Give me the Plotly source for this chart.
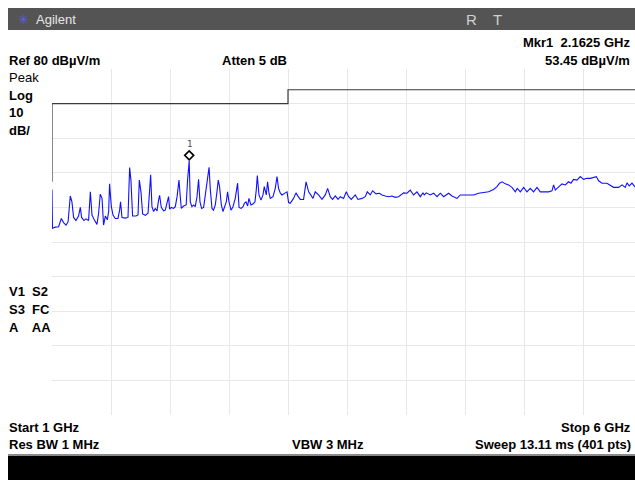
import plotly.graph_objects as go

# ---------------- data ----------------
freq_ghz = [
    1.000, 1.004, 1.028, 1.056, 1.079, 1.098, 1.119, 1.136, 1.155, 1.169,
    1.183, 1.203, 1.225, 1.240, 1.251, 1.271, 1.288, 1.310, 1.325, 1.339,
    1.358, 1.381, 1.395, 1.409, 1.424, 1.437, 1.452, 1.469, 1.480, 1.488,
    1.503, 1.517, 1.536, 1.559, 1.573, 1.581, 1.593, 1.621, 1.644, 1.658,
    1.669, 1.683, 1.712, 1.729, 1.740, 1.754, 1.768, 1.791, 1.814, 1.827,
    1.836, 1.847, 1.861, 1.875, 1.890, 1.903, 1.912, 1.926, 1.946, 1.960,
    1.975, 1.988, 1.997, 2.011, 2.031, 2.045, 2.060, 2.076, 2.087, 2.096,
    2.115, 2.137, 2.149, 2.1625, 2.172, 2.186, 2.200, 2.214, 2.229, 2.242,
    2.254, 2.268, 2.285, 2.299, 2.314, 2.331, 2.342, 2.356, 2.369, 2.384,
    2.398, 2.409, 2.420, 2.435, 2.449, 2.463, 2.477, 2.488, 2.500, 2.517,
    2.534, 2.553, 2.573, 2.585, 2.602, 2.619, 2.630, 2.644, 2.658, 2.669,
    2.686, 2.703, 2.720, 2.731, 2.740, 2.754, 2.771, 2.788, 2.799, 2.816,
    2.827, 2.839, 2.850, 2.873, 2.892, 2.907, 2.920, 2.935, 2.949, 2.977,
    2.992, 3.005, 3.019, 3.047, 3.068, 3.087, 3.104, 3.132, 3.153, 3.175,
    3.195, 3.212, 3.231, 3.259, 3.288, 3.316, 3.336, 3.358, 3.378, 3.401,
    3.424, 3.443, 3.471, 3.494, 3.514, 3.536, 3.570, 3.593, 3.627, 3.655,
    3.672, 3.697, 3.717, 3.746, 3.774, 3.797, 3.825, 3.853, 3.881, 3.909,
    3.937, 3.960, 3.980, 4.008, 4.036, 4.064, 4.093, 4.121, 4.144, 4.155,
    4.172, 4.206, 4.234, 4.263, 4.291, 4.319, 4.361, 4.390, 4.432, 4.460,
    4.517, 4.573, 4.615, 4.658, 4.700, 4.742, 4.771, 4.793, 4.814, 4.842,
    4.869, 4.898, 4.926, 4.943, 4.969, 4.997, 5.025, 5.053, 5.081, 5.110,
    5.138, 5.166, 5.208, 5.237, 5.251, 5.265, 5.293, 5.322, 5.350, 5.378,
    5.398, 5.420, 5.449, 5.477, 5.505, 5.534, 5.562, 5.590, 5.613, 5.632,
    5.661, 5.703, 5.731, 5.759, 5.802, 5.831, 5.858, 5.873, 5.892, 5.915,
    5.943, 5.970, 6.000,
]
level_dbuv = [
    45.2, 34.0, 34.3, 34.4, 36.8, 35.6, 34.9, 35.8, 43.3, 41.6,
    37.1, 36.2, 37.5, 40.0, 37.1, 36.2, 36.7, 36.2, 44.5, 37.8,
    36.4, 35.1, 38.3, 43.8, 42.6, 34.9, 37.5, 36.4, 38.8, 46.8,
    40.2, 37.8, 36.8, 36.8, 39.2, 41.6, 37.1, 36.9, 37.1, 51.5,
    47.9, 37.5, 37.5, 37.8, 47.9, 44.5, 38.1, 37.7, 38.3, 46.5,
    49.4, 40.2, 38.8, 39.7, 39.0, 42.1, 43.5, 40.0, 39.0, 39.2,
    41.6, 43.1, 39.5, 40.0, 39.7, 40.2, 43.1, 47.9, 43.1, 39.7,
    40.4, 40.7, 47.9, 53.45, 41.6, 40.2, 40.7, 40.2, 43.1, 48.1,
    41.6, 39.7, 40.0, 43.1, 47.0, 51.6, 45.0, 39.7, 39.2, 40.7,
    44.5, 47.9, 46.0, 40.7, 38.8, 40.2, 41.6, 44.5, 41.6, 39.2,
    40.2, 42.6, 47.0, 40.0, 39.7, 40.2, 41.2, 41.6, 40.4, 42.6,
    40.7, 41.0, 41.6, 45.0, 49.2, 43.6, 42.1, 43.6, 46.0, 43.6,
    47.4, 44.1, 42.6, 43.1, 45.5, 48.9, 45.5, 44.1, 43.6, 44.2,
    44.5, 41.4, 41.2, 42.6, 44.2, 43.1, 42.3, 42.3, 47.4, 44.5,
    43.6, 42.6, 44.5, 43.6, 42.3, 43.6, 45.5, 43.1, 42.3, 43.3,
    42.3, 43.1, 42.6, 44.5, 43.1, 42.3, 43.6, 42.3, 42.6, 43.1,
    44.5, 43.6, 44.8, 43.9, 44.1, 43.6, 43.3, 43.1, 43.3, 42.9,
    43.1, 43.6, 44.2, 44.1, 45.0, 43.6, 44.5, 43.1, 44.2, 43.6,
    44.2, 43.6, 44.1, 43.1, 44.1, 43.1, 44.1, 43.3, 42.6, 43.6,
    43.6, 43.6, 44.1, 44.2, 44.5, 45.2, 46.0, 47.0, 47.4, 46.8,
    46.5, 45.8, 44.5, 45.5, 44.5, 45.8, 44.5, 45.5, 44.5, 45.8,
    44.5, 44.5, 44.5, 44.8, 46.5, 45.0, 46.0, 46.8, 46.5, 47.4,
    47.0, 48.1, 47.9, 48.9, 48.1, 48.4, 48.4, 48.7, 48.9, 47.7,
    47.0, 47.0, 46.5, 45.8, 45.8, 46.5, 45.8, 47.1, 46.2, 47.0,
    45.8, 46.3, 46.0,
]
limit_freq_ghz = [1.0, 1.0, 3.0, 3.0, 6.0]
limit_level_dbuv = [47.4, 70.0, 70.0, 74.0, 74.0]
marker_freq_ghz = 2.1625
marker_level_dbuv = 53.45

ref_level = 80
db_per_div = 10
start_ghz = 1.0
stop_ghz = 6.0

# ---------------- layout geometry ----------------
W, H = 635, 480
PL, PT = 52, 69
PW = W - PL          # plot runs off the right edge of the screenshot
PH = 346
PX_PER_GHZ = 118.0
x_max = start_ghz + PW / PX_PER_GHZ


def px(x):
    return (x - PL) / PW


def py(y):
    return (PT + PH - y) / PH


FONT = "Liberation Sans Narrow, Arial Narrow, Liberation Sans, Arial, sans-serif"

fig = go.Figure()
fig.add_trace(go.Scatter(
    x=limit_freq_ghz, y=limit_level_dbuv, mode="lines",
    line=dict(color="#3a3a3a", width=1.2), hoverinfo="skip", showlegend=False,
))
fig.add_trace(go.Scatter(
    x=freq_ghz, y=level_dbuv, mode="lines",
    line=dict(color="#1010ff", width=1.1), showlegend=False,
))

shapes = []
# marker diamond sitting on top of the peak
shapes.append(dict(
    type="path", xref="x", yref="y", xsizemode="pixel", ysizemode="pixel",
    xanchor=marker_freq_ghz, yanchor=marker_level_dbuv,
    path="M 0 1 L 4.5 5.5 L 0 10 L -4.5 5.5 Z",
    line=dict(color="black", width=1.6), fillcolor="white", layer="above",
))
# top title bar
shapes.append(dict(type="rect", xref="paper", yref="paper",
                   x0=px(8), x1=px(W), y0=py(30), y1=py(8),
                   fillcolor="#545454", line=dict(width=0), layer="above"))
# bottom black bar
shapes.append(dict(type="rect", xref="paper", yref="paper",
                   x0=px(8), x1=px(W), y0=py(H), y1=py(455),
                   fillcolor="#000000", line=dict(width=0), layer="above"))
shapes.append(dict(type="line", xref="paper", yref="paper",
                   x0=px(8), x1=px(W), y0=py(455), y1=py(455),
                   line=dict(color="#8a8a8a", width=2), layer="above"))

ann = []


def txt(text, x, y, anchor="left", size=13, bold=True, color="black", family=FONT):
    t = f"<b>{text}</b>" if bold else text
    ann.append(dict(text=t, x=px(x), y=py(y), xref="paper", yref="paper",
                    xanchor=anchor, yanchor="middle", showarrow=False,
                    font=dict(size=size, color=color, family=family)))


txt("Agilent", 34, 19, size=13, bold=False, color="#e6e6e6",
    family="Liberation Sans, Arial, sans-serif")
txt("✳", 16, 19, size=13, bold=False, color="#5a5aff",
    family="DejaVu Sans, sans-serif")
txt("R", 464, 19, size=15, bold=False, color="#d0d0d0",
    family="Liberation Sans, Arial, sans-serif")
txt("T", 491, 19, size=15, bold=False, color="#d0d0d0",
    family="Liberation Sans, Arial, sans-serif")

txt(f"Mkr1  {marker_freq_ghz:.4f} GHz", 632, 42, anchor="right")
txt(f"Ref {ref_level} dBµV/m", 7, 60)
txt("Atten 5 dB", 220, 60)
txt(f"{marker_level_dbuv:.2f} dBµV/m", 632, 60, anchor="right")
txt("Peak", 7, 77, bold=False)
txt("Log", 7, 95)
txt(f"{db_per_div}", 7, 112)
txt("dB/", 7, 130)
txt("V1  S2", 7, 291)
txt("S3  FC", 7, 309)
txt("A    AA", 7, 327)
txt(f"Start {start_ghz:g} GHz", 7, 427)
txt(f"Stop {stop_ghz:g} GHz", 633, 427, anchor="right")
txt("Res BW 1 MHz", 7, 445)
txt("VBW 3 MHz", 290, 445)
txt("Sweep 13.11 ms (401 pts)", 633, 445, anchor="right")

# marker number
ann.append(dict(text="1", x=marker_freq_ghz, y=marker_level_dbuv, xref="x", yref="y",
                showarrow=False, yshift=17, font=dict(size=9, color="#444",
                family="DejaVu Sans Mono, monospace")))

fig.update_layout(
    width=W, height=H,
    margin=dict(l=PL, r=0, t=PT, b=H - PT - PH, pad=0),
    paper_bgcolor="white", plot_bgcolor="white",
    shapes=shapes, annotations=ann, showlegend=False,
    xaxis=dict(range=[start_ghz, x_max], tick0=start_ghz, dtick=0.5,
               showticklabels=False, ticks="", gridcolor="#e8e8e8", gridwidth=1,
               zeroline=False, showline=False, fixedrange=True),
    yaxis=dict(range=[ref_level - 10 * db_per_div, ref_level], tick0=0, dtick=db_per_div,
               showticklabels=False, ticks="", gridcolor="#e8e8e8", gridwidth=1,
               zeroline=False, showline=False, fixedrange=True),
)

fig.write_html(
    "out.html",
    config=dict(displayModeBar=False),
    post_script="document.body.style.margin='0';document.body.style.overflow='hidden';",
)
